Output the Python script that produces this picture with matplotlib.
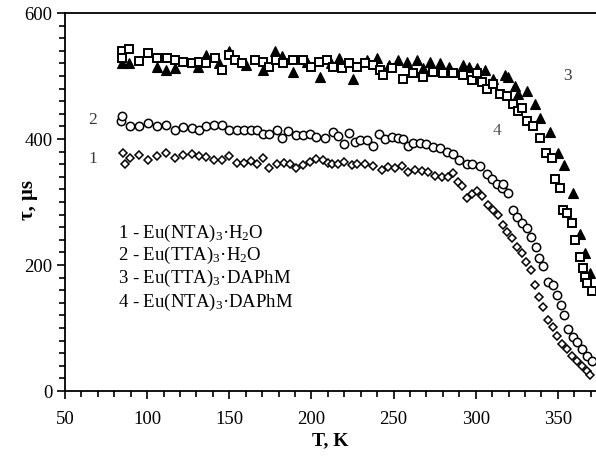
import matplotlib
matplotlib.use("Agg")
import matplotlib.pyplot as plt
from matplotlib.ticker import MultipleLocator

plt.rcParams['font.family'] = ['Liberation Serif', 'DejaVu Serif']
plt.rcParams['mathtext.fontset'] = 'custom'
plt.rcParams['mathtext.rm'] = 'Liberation Serif'
plt.rcParams['mathtext.it'] = 'Liberation Serif:italic'
plt.rcParams['mathtext.bf'] = 'Liberation Serif:bold'

# Series 1: Eu(NTA)3·H2O (open diamonds)
t1 = [85.3, 86.5, 89.6, 95, 100.5, 106, 111.5, 117, 122, 127, 131.5, 136, 140.7, 145.5, 150,
      154.7, 159, 163, 167, 170.5, 174, 179, 183, 187, 190.6, 195, 199, 203, 207, 210, 212.5,
      216, 220, 224.7, 228, 232.6, 237.5, 243, 246.6, 251, 255, 258.8, 263, 267, 271, 275,
      279.5, 283, 286, 289, 291.6, 294.7, 297.7, 300.7, 303.8, 307.5, 310.5, 313.5, 316.6,
      319, 322, 325, 328, 330.6, 333.6, 336, 338.5, 341, 344, 347, 349.5, 352.5, 355.5,
      358.6, 361.6, 364.7, 367.7, 369.5]
y1 = [378, 361, 370, 375, 367, 373, 378, 370, 375, 376, 373, 372, 367, 367, 373,
      362, 362, 365, 361, 370, 354, 361, 362, 361, 354, 359, 364, 368, 367, 362, 361,
      361, 364, 359, 361, 361, 357, 351, 356, 354, 357, 348, 351, 350, 348, 342,
      339, 340, 346, 331, 326, 306, 313, 318, 310, 295, 287, 279, 263,
      252, 243, 228, 219, 205, 192, 168, 150, 134, 113, 101, 87, 74, 66,
      55, 47, 39, 31, 25]

# Series 2: Eu(TTA)3·H2O (open circles)
t2 = [84.0, 84.7, 89.6, 95, 100.5, 106, 111.5, 117, 122, 127, 131.5, 136, 140.7, 145.5, 150,
      154.7, 159, 163, 167, 170.5, 174, 179, 182, 185.7, 190.6, 195, 199, 203, 208, 213,
      216, 220, 223, 226.5, 229.5, 234, 237.5, 241, 245, 249, 252.7, 255.7, 258.8, 262,
      266, 270, 274, 278, 282.5, 286, 290, 294.7, 298, 302.6, 307, 310, 313, 316, 316.6,
      319.6, 322.7, 325, 328, 331, 333.6, 336.7, 338.5, 341, 344, 347, 349.5, 352,
      353.7, 356, 359, 361.6, 364.7, 367.7, 370.7]
y2 = [428, 436, 420, 420, 425, 420, 423, 414, 419, 417, 414, 420, 422, 422, 414,
      414, 414, 414, 414, 408, 408, 414, 402, 413, 406, 406, 408, 403, 402, 411,
      405, 392, 409, 395, 398, 398, 389, 408, 400, 403, 402, 400, 389, 394,
      394, 392, 387, 386, 380, 376, 367, 361, 361, 357, 345, 337, 329, 323, 329,
      315, 288, 276, 266, 258, 244, 228, 211, 198, 173, 168, 153, 137,
      120, 98, 85, 77, 66, 55, 47]

# Series 3: Eu(TTA)3·DAPhM (filled triangles)
t3 = [84.7, 89, 106, 111.5, 117, 131, 136, 144, 150, 160, 170.5, 177.8, 182, 188.8, 197,
      205, 212, 217, 225, 233.8, 240, 247, 252.7, 258, 264, 268, 272, 278, 284, 292, 296,
      300.7, 305.6, 310.5, 317.8, 319.6, 324, 325.7, 331, 336, 339, 345, 350, 354, 359,
      363.4, 366.5, 369.5]
y3 = [521, 520, 515, 510, 513, 515, 534, 520, 539, 518, 510, 539, 531, 507, 522,
      499, 520, 528, 496, 526, 528, 517, 526, 523, 526, 512, 523, 520, 515, 518, 515,
      512, 510, 496, 502, 499, 484, 471, 476, 455, 433, 411, 377, 358, 314,
      250, 219, 187]

# Series 4: Eu(NTA)3·DAPhM (open squares)
t4 = [84.7, 84.7, 89, 95, 100.5, 106, 112, 117, 122, 127, 131.5, 136, 141, 145.5, 150,
      153.5, 158, 165.6, 170.5, 174, 178.4, 182.7, 188.8, 195, 200, 204.6, 209.5, 213,
      218.6, 222.9, 228, 232.6, 237.5, 241.7, 243.5, 249, 255.7, 262, 268, 274, 280, 286,
      292, 297.7, 301, 303.8, 307, 310.5, 314.8, 319, 322.7, 325.7, 328, 331, 334.8, 339,
      343, 346.4, 348, 351, 353, 355.5, 358.6, 360.4, 363.5, 365, 366.5, 368, 370.7]
y4 = [539, 529, 543, 524, 537, 529, 528, 526, 523, 520, 523, 521, 528, 510, 534,
      526, 520, 526, 523, 515, 526, 520, 526, 526, 515, 523, 526, 515,
      512, 520, 515, 520, 517, 510, 501, 512, 495, 504, 499, 507, 504, 504,
      502, 494, 504, 491, 480, 488, 472, 468, 455, 444, 449, 428, 421, 402,
      378, 370, 337, 323, 287, 282, 266, 239, 213, 195, 181, 172, 158]

legend_lines = ["1 - Eu(NTA)$_3$·H$_2$O", "2 - Eu(TTA)$_3$·H$_2$O",
                "3 - Eu(TTA)$_3$·DAPhM", "4 - Eu(NTA)$_3$·DAPhM"]

fig = plt.figure(figsize=(5.96, 4.64), dpi=100)
ax = fig.add_axes([65/596, 1-392/464, 1-65/596, (392-14)/464])

ax.plot(t3, y3, linestyle='none', marker='^', ms=6.5, mfc='black', mec='black', mew=0.8, zorder=3)
ax.plot(t4, y4, linestyle='none', marker='s', ms=6.2, mfc='white', mec='black', mew=1.4, zorder=4)
ax.plot(t2, y2, linestyle='none', marker='o', ms=6.0, mfc='white', mec='black', mew=1.1, zorder=3)
ax.plot(t1, y1, linestyle='none', marker='D', ms=4.0, mfc='white', mec='black', mew=1.1, zorder=3)

ax.set_xlim(50, 373.2)
ax.set_ylim(0, 600)
ax.xaxis.set_major_locator(MultipleLocator(50))
ax.xaxis.set_minor_locator(MultipleLocator(10))
ax.yaxis.set_major_locator(MultipleLocator(200))
ax.yaxis.set_minor_locator(MultipleLocator(20))
ax.tick_params(which='both', direction='out', top=False, right=False, width=1.2, labelsize=13.5)
ax.tick_params(which='major', length=6)
ax.tick_params(which='minor', length=4)
ax.tick_params(axis='x', which='major', pad=8)
ax.tick_params(axis='y', which='major', pad=3)
ax.spines['right'].set_visible(False)
for s in ['left', 'bottom', 'top']:
    ax.spines[s].set_linewidth(1.3)

ax.set_xlabel("T, K", fontsize=14, fontweight='bold')
ax.xaxis.set_label_coords(0.5, -(432 - 392) / 378)
ax.set_ylabel("τ, μs", fontsize=15, fontweight='bold')
ax.yaxis.set_label_coords((38 - 65) / 531, (392 - 200) / 378)

num_color = '#3a3a3a'
ax.text(67, 431, "2", fontsize=12.5, color=num_color, ha='center', va='center')
ax.text(67, 370, "1", fontsize=12.5, color=num_color, ha='center', va='center')
ax.text(356, 501, "3", fontsize=12.5, color=num_color, ha='center', va='center')
ax.text(313, 414, "4", fontsize=12.5, color='#555555', ha='center', va='center')

for txt, yv in zip(legend_lines, [252, 216, 180, 142]):
    ax.text(82.3, yv, txt, fontsize=13.5, ha='left', va='center', color='black')

fig.savefig("out.png", dpi=100)
